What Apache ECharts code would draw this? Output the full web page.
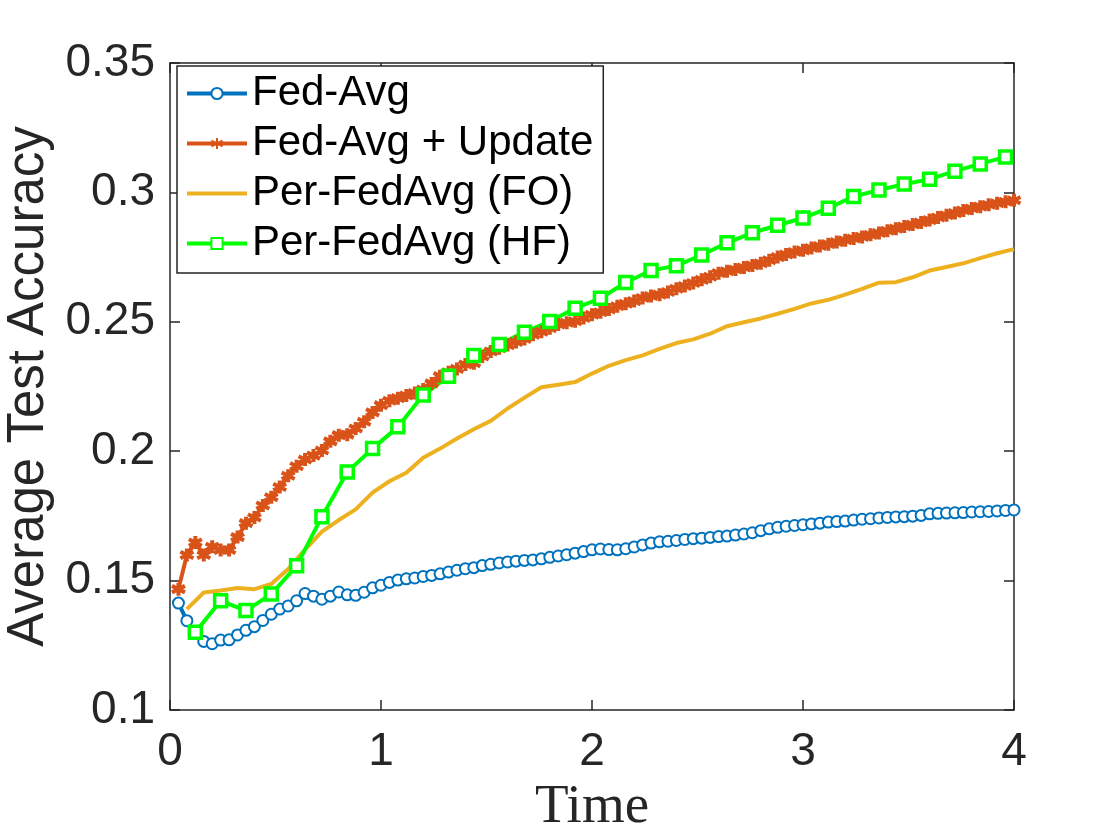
<!doctype html>
<html style="width: 100%; height: 100%"><head><meta charset="utf-8"></head>
<body style="width: 100%; height: 100%; margin: 0; background: #fff">
<div id="container" style="width: 1120px; height: 840px"></div>
<script type="text/javascript" src="https://cdn.jsdelivr.net/npm/echarts@6/dist/echarts.min.js"></script>
<script type="text/javascript">
// time step of each run (dense runs every 0.04, FO every 0.08, HF every 0.12)
var stepDense = 0.04, stepFO = 0.08, stepHF = 0.12;

var fedAvg = [
  0.1413,0.1345,0.1297,0.1265,0.1256,0.1270,0.1271,0.1290,0.1308,0.1322,
  0.1346,0.1370,0.1390,0.1402,0.1422,0.1450,0.1440,0.1428,0.1440,0.1456,
  0.1445,0.1443,0.1455,0.1472,0.1482,0.1493,0.1502,0.1507,0.1510,0.1516,
  0.1520,0.1526,0.1533,0.1540,0.1546,0.1550,0.1558,0.1563,0.1568,0.1572,
  0.1575,0.1578,0.1580,0.1584,0.1590,0.1595,0.1600,0.1606,0.1612,0.1619,
  0.1622,0.1620,0.1619,0.1623,0.1630,0.1638,0.1645,0.1650,0.1652,0.1655,
  0.1659,0.1662,0.1664,0.1667,0.1670,0.1672,0.1676,0.1680,0.1685,0.1693,
  0.1700,0.1706,0.1710,0.1713,0.1716,0.1719,0.1722,0.1726,0.1728,0.1730,
  0.1734,0.1737,0.1739,0.1742,0.1744,0.1746,0.1747,0.1749,0.1752,0.1758,
  0.1760,0.1761,0.1762,0.1763,0.1765,0.1766,0.1767,0.1769,0.1771,0.1773
];

var fedAvgUpdate = [
  0.1467,0.1599,0.1647,0.1599,0.1631,0.1618,0.1618,0.1668,0.1722,0.1744,
  0.1790,0.1822,0.1862,0.1905,0.1942,0.1968,0.1983,0.2003,0.2038,0.2062,
  0.2064,0.2088,0.2114,0.2150,0.2178,0.2195,0.2205,0.2215,0.2225,0.2238,
  0.2262,0.2290,0.2305,0.2318,0.2335,0.2340,0.2366,0.2385,0.2398,0.2410,
  0.2422,0.2434,0.2450,0.2462,0.2475,0.2490,0.2496,0.2502,0.2515,0.2527,
  0.2537,0.2548,0.2560,0.2570,0.2580,0.2592,0.2600,0.2605,0.2615,0.2628,
  0.2638,0.2650,0.2662,0.2674,0.2688,0.2695,0.2702,0.2710,0.2718,0.2726,
  0.2738,0.2750,0.2760,0.2770,0.2776,0.2785,0.2793,0.2800,0.2808,0.2815,
  0.2822,0.2828,0.2836,0.2843,0.2852,0.2860,0.2868,0.2876,0.2884,0.2893,
  0.2903,0.2912,0.2920,0.2930,0.2938,0.2945,0.2952,0.2958,0.2964,0.2970
];

var perFO = [
  0.1390,0.1454,0.1462,0.1471,0.1467,0.1487,0.1545,0.1620,0.1689,0.1734,
  0.1775,0.1840,0.1884,0.1917,0.1975,0.2010,0.2049,0.2085,0.2117,0.2165,
  0.2207,0.2247,0.2257,0.2267,0.2300,0.2330,0.2352,0.2370,0.2395,0.2418,
  0.2432,0.2454,0.2483,0.2498,0.2513,0.2531,0.2550,0.2571,0.2585,0.2605,
  0.2627,0.2651,0.2653,0.2672,0.2698,0.2712,0.2726,0.2746,0.2765,0.2781
];

var perHF = [
  0.1300,0.1422,0.1384,0.1448,0.1557,0.1747,0.1920,0.2010,0.2094,0.2217,
  0.2290,0.2370,0.2412,0.2460,0.2501,0.2552,0.2591,0.2652,0.2698,0.2717,
  0.2758,0.2805,0.2844,0.2873,0.2901,0.2939,0.2984,0.3009,0.3032,0.3051,
  0.3082,0.3110,0.3137
];

var seriesNames = ['Fed-Avg', 'Fed-Avg + Update', 'Per-FedAvg (FO)', 'Per-FedAvg (HF)'];
var xTicks = [0, 1, 2, 3, 4];
var yTicks = [0.1, 0.15, 0.2, 0.25, 0.3, 0.35];

function pairs(vals, step) {
  return vals.map(function (v, i) { return [+(step * (i + 1)).toFixed(2), v]; });
}

var dom = document.getElementById("container");
var myChart = echarts.init(dom);

var axisCol = '#262626';
var tickFont = 'Liberation Sans';
var star = 'path://M0,-5L0,5M-4.33,-2.5L4.33,2.5M-4.33,2.5L4.33,-2.5';
var bar = 'path://M0,0L60,0L60,4L0,4Z';

function frameAxis(pos, isX, showLabel) {
  return {
    type: 'value',
    position: pos,
    min: isX ? xTicks[0] : yTicks[0],
    max: isX ? xTicks[xTicks.length - 1] : yTicks[yTicks.length - 1],
    interval: isX ? 1 : 0.05,
    splitLine: {show: false},
    axisLine: {show: true, onZero: false, lineStyle: {color: axisCol, width: 1.5}},
    axisTick: {show: true, inside: true, length: 10, lineStyle: {color: axisCol, width: 1.5}},
    axisLabel: {
      show: showLabel,
      color: axisCol,
      fontFamily: tickFont,
      fontSize: 46,
      margin: isX ? 19 : 15,
      formatter: function (v) { return String(+v.toFixed(2)); }
    }
  };
}

var xBottom = frameAxis('bottom', true, true);
xBottom.name = 'Time';
xBottom.nameLocation = 'middle';
xBottom.nameGap = 66;
xBottom.nameTextStyle = {fontFamily: 'Liberation Serif', fontSize: 55, color: axisCol};

var yLeft = frameAxis('left', false, true);
yLeft.name = 'Average Test Accuracy';
yLeft.nameLocation = 'middle';
yLeft.nameGap = 110;
yLeft.nameTextStyle = {fontFamily: tickFont, fontSize: 51, color: axisCol};

option = {
  backgroundColor: '#ffffff',
  animation: false,
  grid: {left: 170, right: 106, top: 63, bottom: 130, containLabel: false, outerBoundsMode: 'none'},
  legend: {
    orient: 'vertical',
    left: 177,
    top: 66,
    padding: [6, 10, 8, 8],
    itemWidth: 60,
    itemHeight: 14,
    itemGap: 7,
    backgroundColor: '#ffffff',
    borderColor: axisCol,
    borderWidth: 1.5,
    borderRadius: 0,
    lineStyle: {width: 4},
    textStyle: {fontFamily: tickFont, fontSize: 42, lineHeight: 43, color: '#000'},
    data: [
      seriesNames[0],
      seriesNames[1],
      {name: seriesNames[2], icon: bar},
      seriesNames[3]
    ]
  },
  xAxis: [xBottom, frameAxis('top', true, false)],
  yAxis: [yLeft, frameAxis('right', false, false)],
  series: [
    {
      name: seriesNames[0], type: 'line', data: pairs(fedAvg, stepDense),
      symbol: 'emptyCircle', symbolSize: 11,
      lineStyle: {color: '#0072BD', width: 4},
      itemStyle: {color: '#0072BD', borderColor: '#0072BD', borderWidth: 3.5}
    },
    {
      name: seriesNames[1], type: 'line', data: pairs(fedAvgUpdate, stepDense),
      symbol: star, symbolSize: 13,
      lineStyle: {color: '#D95319', width: 4},
      itemStyle: {color: '#D95319', borderColor: '#D95319', borderWidth: 4}
    },
    {
      name: seriesNames[2], type: 'line', data: pairs(perFO, stepFO),
      symbol: 'none',
      lineStyle: {color: '#EDB120', width: 4},
      itemStyle: {color: '#EDB120'}
    },
    {
      name: seriesNames[3], type: 'line', data: pairs(perHF, stepHF),
      symbol: 'rect', symbolSize: 12,
      lineStyle: {color: '#00FF00', width: 4},
      itemStyle: {color: '#ffffff', borderColor: '#00FF00', borderWidth: 3.5}
    }
  ]
};
myChart.setOption(option);
</script>
</body></html>
